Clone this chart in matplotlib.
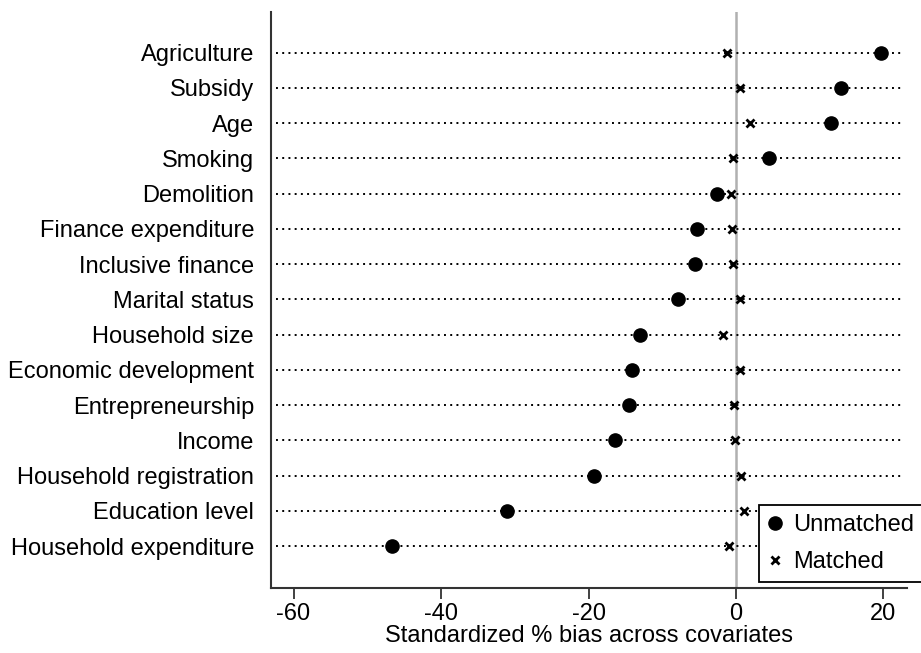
import matplotlib
matplotlib.use("Agg")
import matplotlib.pyplot as plt
import numpy as np

plt.rcParams['font.family'] = ['Liberation Sans', 'DejaVu Sans']

# covariates, top to bottom
covariates = ["Agriculture", "Subsidy", "Age", "Smoking", "Demolition",
              "Finance expenditure", "Inclusive finance", "Marital status",
              "Household size", "Economic development", "Entrepreneurship",
              "Income", "Household registration", "Education level",
              "Household expenditure"]
unmatched = [19.7, 14.3, 12.9, 4.5, -2.6, -5.3, -5.5, -7.8,
             -13.0, -14.1, -14.5, -16.4, -19.2, -31.0, -46.6]
matched = [-1.2, 0.6, 1.9, -0.4, -0.7, -0.6, -0.4, 0.6,
           -1.8, 0.6, -0.3, -0.2, 0.7, 1.1, -0.9]
xticks = [-60, -40, -20, 0, 20]

n = len(covariates)
ypos = np.arange(n, 0, -1)
fs = 17

fig = plt.figure(figsize=(9.21, 6.53), dpi=100)
ax = fig.add_axes([0.2939, 0.0995, 0.6906, 0.8821])

ax.hlines(ypos, -62.4, 22.6, colors='black', linestyles=(0, (1, 2.2)), linewidth=1.4, zorder=1)
ax.axvline(0, color='#b0b0b0', linewidth=1.8, zorder=0)

ax.plot(unmatched, ypos, 'o', color='black', markersize=9.5, linestyle='none', label='Unmatched', zorder=3)
ax.plot(matched, ypos, 'x', color='black', markersize=6, markeredgewidth=2, linestyle='none', label='Matched', zorder=3)

ax.set_xlim(-63.1, 23.15)
ax.set_ylim(-0.19, 16.15)
ax.set_yticks(ypos)
ax.set_yticklabels(covariates, fontsize=fs)
ax.tick_params(axis='y', length=0, pad=12)
ax.set_xticks(xticks)
ax.set_xticklabels([str(t) for t in xticks], fontsize=fs)
ax.tick_params(axis='x', length=8, width=1.3, color='#333333', pad=3)
ax.set_xlabel("Standardized % bias across covariates", fontsize=fs, labelpad=0)

for s in ['top', 'right']:
    ax.spines[s].set_visible(False)
for s in ['left', 'bottom']:
    ax.spines[s].set_color('#333333')
    ax.spines[s].set_linewidth(1.5)

leg = ax.legend(loc='upper left', bbox_to_anchor=(758.7 / 921, (653 - 504.7) / 653),
                bbox_transform=fig.transFigure, fontsize=fs, frameon=True,
                fancybox=False, edgecolor='black', borderaxespad=0,
                borderpad=0.4, handletextpad=0.45, handlelength=0.6, labelspacing=0.62,
                framealpha=1)
leg.get_frame().set_linewidth(1.3)

fig.savefig("out.png", dpi=100)
